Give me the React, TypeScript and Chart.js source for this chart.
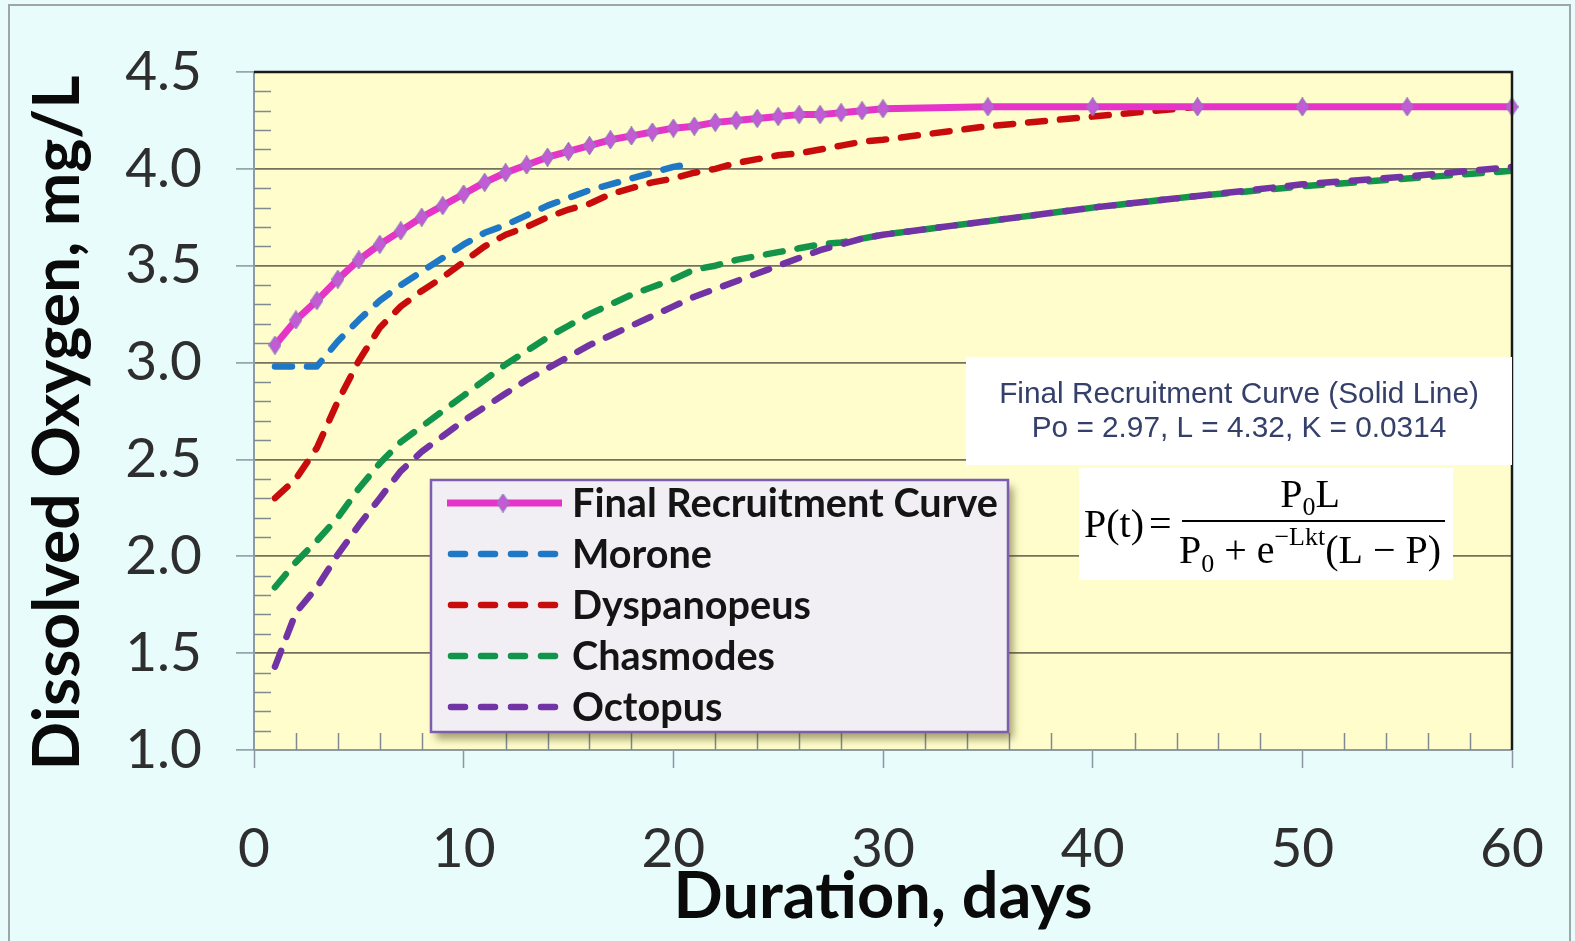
import React, { useEffect, useRef } from 'react';
import { Chart, registerables } from 'chart.js';

Chart.register(...registerables);

// ---- data (days, dissolved oxygen mg/L) ----
const finalDays = [1, 2, 3, 4, 5, 6, 7, 8, 9, 10, 11, 12, 13, 14, 15, 16, 17, 18, 19, 20, 21, 22, 23, 24, 25, 26, 27, 28, 29, 30, 35, 40, 45, 50, 55, 60];
const finalDO = [3.09, 3.22, 3.32, 3.43, 3.53, 3.61, 3.68, 3.75, 3.81, 3.87, 3.93, 3.98, 4.02, 4.06, 4.09, 4.12, 4.15, 4.17, 4.19, 4.21, 4.22, 4.24, 4.25, 4.26, 4.27, 4.28, 4.28, 4.29, 4.30, 4.31, 4.32, 4.32, 4.32, 4.32, 4.32, 4.32];

const moroneDays = [1, 2, 3, 4, 5, 6, 7, 8, 9, 10, 11, 12, 13, 14, 15, 16, 17, 18, 19, 20, 21];
const moroneDO = [2.98, 2.98, 2.98, 3.11, 3.22, 3.32, 3.40, 3.47, 3.54, 3.61, 3.67, 3.71, 3.76, 3.81, 3.85, 3.89, 3.92, 3.95, 3.98, 4.01, 4.03];

const dyspDays = [1, 2, 3, 4, 5, 6, 7, 8, 9, 10, 11, 12, 13, 14, 15, 16, 17, 18, 19, 20, 21, 22, 23, 24, 25, 26, 27, 28, 29, 30, 35, 40, 45];
const dyspDO = [2.30, 2.40, 2.56, 2.80, 3.01, 3.18, 3.29, 3.37, 3.44, 3.52, 3.60, 3.66, 3.70, 3.75, 3.79, 3.82, 3.87, 3.90, 3.93, 3.95, 3.98, 4.00, 4.03, 4.05, 4.07, 4.08, 4.10, 4.12, 4.14, 4.15, 4.22, 4.27, 4.32];

const chasDays = [1, 2, 3, 4, 5, 6, 7, 8, 9, 10, 11, 12, 13, 14, 15, 16, 17, 18, 19, 20, 21, 22, 23, 24, 25, 26, 27, 28, 29, 30, 35, 40, 45, 50, 55, 60];
const chasDO = [1.84, 1.97, 2.08, 2.20, 2.35, 2.48, 2.59, 2.67, 2.75, 2.83, 2.91, 2.99, 3.06, 3.13, 3.19, 3.25, 3.30, 3.35, 3.39, 3.43, 3.48, 3.50, 3.53, 3.55, 3.57, 3.59, 3.61, 3.62, 3.64, 3.66, 3.73, 3.80, 3.86, 3.91, 3.95, 3.99];

const octoDays = [1, 2, 3, 4, 5, 6, 7, 8, 9, 10, 11, 12, 13, 14, 15, 16, 17, 18, 19, 20, 21, 22, 23, 24, 25, 26, 27, 28, 29, 30, 35, 40, 45, 50, 55, 60];
const octoDO = [1.43, 1.71, 1.84, 2.01, 2.16, 2.30, 2.44, 2.54, 2.62, 2.70, 2.77, 2.84, 2.91, 2.97, 3.03, 3.09, 3.14, 3.19, 3.24, 3.29, 3.34, 3.38, 3.42, 3.46, 3.50, 3.54, 3.58, 3.61, 3.64, 3.66, 3.73, 3.80, 3.86, 3.92, 3.96, 4.01];

const seriesLabels = ['Final Recruitment Curve', 'Morone', 'Dyspanopeus', 'Chasmodes', 'Octopus'];
const seriesColors = ['#E535C8', '#1F78C6', '#C80C0C', '#12944A', '#7233A4'];

const xTitle = 'Duration, days';
const yTitle = 'Dissolved Oxygen, mg/L';
const noteLines = ['Final Recruitment Curve (Solid Line)', 'Po = 2.97, L = 4.32, K = 0.0314'];

const W = 1575;
const H = 941;
const DASH = [17, 15];

const toPoints = (days: number[], vals: number[]) => days.map((d, i) => ({ x: d, y: vals[i] }));

function makeDiamond(): HTMLCanvasElement {
  const c = document.createElement('canvas');
  c.width = 13;
  c.height = 19;
  const g = c.getContext('2d')!;
  g.beginPath();
  g.moveTo(6.5, 0.6);
  g.lineTo(12.4, 9.5);
  g.lineTo(6.5, 18.4);
  g.lineTo(0.6, 9.5);
  g.closePath();
  g.fillStyle = '#C45AD6';
  g.fill();
  g.strokeStyle = '#9478BE';
  g.lineWidth = 1.2;
  g.stroke();
  return c;
}

// font size that makes `text` span `target` pixels
function fitSize(ctx: CanvasRenderingContext2D, text: string, weight: string, family: string, target: number) {
  ctx.font = `${weight} 100px ${family}`;
  return (100 * target) / ctx.measureText(text).width;
}

const SANS = 'Lato, "Open Sans", sans-serif';
const ARIAL = '"Liberation Sans", Arial, sans-serif';
const SERIF = '"Liberation Serif", "Times New Roman", serif';

const decor = {
  id: 'decor',
  beforeDraw(chart: any) {
    const { ctx, chartArea: a } = chart;
    ctx.save();
    ctx.fillStyle = '#E8FCFC';
    ctx.fillRect(0, 0, W, H);
    ctx.strokeStyle = '#9EA6A8';
    ctx.lineWidth = 2;
    ctx.strokeRect(9, 5, W - 14, H + 20);
    ctx.fillStyle = '#FFFDCB';
    ctx.fillRect(a.left, a.top, a.right - a.left, a.bottom - a.top);
    ctx.restore();
  },
  beforeDatasetsDraw(chart: any) {
    const { ctx, chartArea: a, scales } = chart;
    ctx.save();
    ctx.strokeStyle = '#7F8A94';
    ctx.lineWidth = 1.5;
    ctx.beginPath();
    // minor ticks every 0.1 on the value axis, pointing inward
    for (let k = 11; k < 45; k++) {
      if (k % 5 === 0) continue;
      const y = Math.round(scales.y.getPixelForValue(k / 10)) + 0.5;
      ctx.moveTo(a.left, y);
      ctx.lineTo(a.left + 17, y);
    }
    // minor ticks every 2 days on the time axis, pointing inward
    for (let d = 2; d < 60; d += 2) {
      if (d % 10 === 0) continue;
      const x = Math.round(scales.x.getPixelForValue(d)) + 0.5;
      ctx.moveTo(x, a.bottom);
      ctx.lineTo(x, a.bottom - 17);
    }
    ctx.stroke();
    ctx.restore();
  },
  afterDraw(chart: any) {
    const { ctx, chartArea: a } = chart;
    ctx.save();

    // plot frame: top and right edges
    ctx.strokeStyle = '#1B1B1B';
    ctx.lineWidth = 2.5;
    ctx.beginPath();
    ctx.moveTo(a.left, a.top);
    ctx.lineTo(a.right, a.top);
    ctx.lineTo(a.right, a.bottom);
    ctx.stroke();

    // legend
    const lg = { x: 431, y: 480, w: 577, h: 252 };
    ctx.save();
    ctx.shadowColor = 'rgba(70,70,20,0.5)';
    ctx.shadowBlur = 8;
    ctx.shadowOffsetX = 5;
    ctx.shadowOffsetY = 7;
    ctx.fillStyle = '#F1EFF4';
    ctx.fillRect(lg.x, lg.y, lg.w, lg.h);
    ctx.restore();
    ctx.strokeStyle = '#7D5DB0';
    ctx.lineWidth = 2.5;
    ctx.strokeRect(lg.x, lg.y, lg.w, lg.h);

    const legendSize = fitSize(ctx, seriesLabels[0], 'bold', SANS, 426);
    chart.data.datasets.forEach((ds: any, i: number) => {
      const y = 503 + i * 51;
      const isDashed = ds.borderDash && ds.borderDash.length > 0;
      ctx.save();
      ctx.strokeStyle = ds.borderColor;
      ctx.lineWidth = ds.borderWidth;
      ctx.lineCap = isDashed ? 'round' : 'butt';
      ctx.setLineDash(isDashed ? [14, 16] : []);
      ctx.beginPath();
      ctx.moveTo(isDashed ? 451 : 447, y);
      ctx.lineTo(isDashed ? 559 : 562, y);
      ctx.stroke();
      ctx.restore();
      if (ds.pointStyle && typeof ds.pointStyle === 'object') {
        const img = ds.pointStyle as HTMLCanvasElement;
        ctx.drawImage(img, 503 - img.width / 2, y - img.height / 2);
      }
      ctx.fillStyle = '#141414';
      ctx.font = `bold ${legendSize}px ${SANS}`;
      ctx.textAlign = 'left';
      ctx.textBaseline = 'middle';
      ctx.fillText(ds.label, 572, y + 1);
    });

    // parameter note
    ctx.fillStyle = '#FFFFFF';
    ctx.fillRect(966, 357, 546, 108);
    const noteSize = fitSize(ctx, noteLines[0], 'normal', ARIAL, 480);
    ctx.font = `normal ${noteSize}px ${ARIAL}`;
    ctx.fillStyle = '#34406A';
    ctx.textAlign = 'center';
    ctx.textBaseline = 'middle';
    ctx.fillText(noteLines[0], 1239, 395);
    ctx.fillText(noteLines[1], 1239, 429);

    // logistic formula
    ctx.fillStyle = '#FFFFFF';
    ctx.fillRect(1079, 468, 374, 112);
    ctx.fillStyle = '#000000';
    ctx.textAlign = 'left';
    ctx.textBaseline = 'alphabetic';
    const big = `normal 40px ${SERIF}`;
    const small = `normal 26px ${SERIF}`;
    ctx.font = big;
    ctx.fillText('P(t)', 1084, 537);
    ctx.fillText('=', 1149, 537);
    ctx.strokeStyle = '#000000';
    ctx.lineWidth = 1.8;
    ctx.beginPath();
    ctx.moveTo(1182, 521);
    ctx.lineTo(1445, 521);
    ctx.stroke();

    const drawRun = (parts: [string, string, number][], cx: number, base: number) => {
      let total = 0;
      parts.forEach(([t, f]) => {
        ctx.font = f;
        total += ctx.measureText(t).width;
      });
      let x = cx - total / 2;
      parts.forEach(([t, f, dy]) => {
        ctx.font = f;
        ctx.fillText(t, x, base + dy);
        x += ctx.measureText(t).width;
      });
    };
    drawRun([['P', big, 0], ['0', small, 8], ['L', big, 0]], 1310, 507);
    drawRun(
      [
        ['P', big, 0],
        ['0', small, 9],
        [' + e', big, 0],
        ['\u2212Lkt', small, -18],
        ['(L \u2212 P)', big, 0],
      ],
      1310,
      563
    );

    // axis titles
    ctx.fillStyle = '#0A0A0A';
    const xs = fitSize(ctx, xTitle, 'bold', SANS, 419);
    ctx.font = `bold ${xs}px ${SANS}`;
    ctx.textAlign = 'center';
    ctx.textBaseline = 'alphabetic';
    ctx.fillText(xTitle, (a.left + a.right) / 2, 918);

    const ys = fitSize(ctx, yTitle, 'bold', SANS, 695);
    ctx.font = `bold ${ys}px ${SANS}`;
    ctx.translate(79, 423);
    ctx.rotate(-Math.PI / 2);
    ctx.fillText(yTitle, 0, 0);

    ctx.restore();
  },
};

export default function App() {
  const ref = useRef<HTMLCanvasElement>(null);

  useEffect(() => {
    document.body.style.margin = '0';
    const diamond = makeDiamond();
    const dashed = (i: number, days: number[], vals: number[], order: number) => ({
      label: seriesLabels[i],
      data: toPoints(days, vals),
      borderColor: seriesColors[i],
      backgroundColor: seriesColors[i],
      borderWidth: 6.5,
      borderDash: DASH,
      borderCapStyle: 'round' as const,
      borderJoinStyle: 'round' as const,
      pointRadius: 0,
      pointHoverRadius: 0,
      tension: 0,
      order,
    });

    const chart = new Chart(ref.current!, {
      type: 'line',
      data: {
        datasets: [
          {
            label: seriesLabels[0],
            data: toPoints(finalDays, finalDO),
            borderColor: seriesColors[0],
            backgroundColor: seriesColors[0],
            borderWidth: 7,
            borderDash: [],
            borderJoinStyle: 'round',
            pointStyle: diamond as any,
            pointRadius: 6,
            pointHoverRadius: 6,
            tension: 0,
            clip: false as any,
            order: 0,
          },
          dashed(1, moroneDays, moroneDO, 3),
          dashed(2, dyspDays, dyspDO, 4),
          dashed(3, chasDays, chasDO, 2),
          dashed(4, octoDays, octoDO, 1),
        ] as any,
      },
      options: {
        animation: false,
        responsive: false,
        devicePixelRatio: 1,
        events: [],
        layout: { padding: { top: 72, right: 63, bottom: 0, left: 0 } },
        plugins: {
          legend: { display: false },
          tooltip: { enabled: false },
          title: { display: false },
        },
        scales: {
          x: {
            type: 'linear',
            min: 0,
            max: 60,
            ticks: {
              stepSize: 10,
              autoSkip: false,
              maxRotation: 0,
              padding: 48,
              color: '#2E2E2E',
              font: { family: SANS, size: 55 },
            },
            grid: {
              drawOnChartArea: false,
              drawTicks: true,
              tickLength: 18,
              tickColor: '#8A96A0',
              tickWidth: 1.5,
            },
            border: { display: true, color: '#8F9BA3', width: 2 },
            afterFit: (s: any) => {
              s.height = H - 750;
              // end labels fit inside the outer padding already
              s.paddingLeft = 0;
              s.paddingRight = 0;
            },
          },
          y: {
            type: 'linear',
            min: 1,
            max: 4.5,
            ticks: {
              stepSize: 0.5,
              autoSkip: false,
              padding: 34,
              color: '#2E2E2E',
              font: { family: SANS, size: 55 },
              callback: (v: any) => Number(v).toFixed(1),
            },
            grid: {
              color: '#74725E',
              lineWidth: 1.8,
              drawTicks: true,
              tickLength: 18,
              tickColor: '#8A96A0',
              tickWidth: 1.5,
            },
            border: { display: true, color: '#8F9BA3', width: 2 },
            afterFit: (s: any) => {
              s.width = 254;
              s.paddingTop = 0;
              s.paddingBottom = 0;
            },
          },
        },
      } as any,
      plugins: [decor],
    });

    let alive = true;
    const fs: any = (document as any).fonts;
    if (fs && fs.load) {
      Promise.all([
        fs.load(`bold 40px ${SANS}`),
        fs.load(`55px ${SANS}`),
        fs.load(`24px ${ARIAL}`),
        fs.load(`40px ${SERIF}`),
      ])
        .then(() => {
          if (alive) chart.update();
        })
        .catch(() => {});
    }

    return () => {
      alive = false;
      chart.destroy();
    };
  }, []);

  return (
    <div style={{ width: W, height: H }}>
      <canvas ref={ref} width={W} height={H} style={{ display: 'block' }} />
    </div>
  );
}
